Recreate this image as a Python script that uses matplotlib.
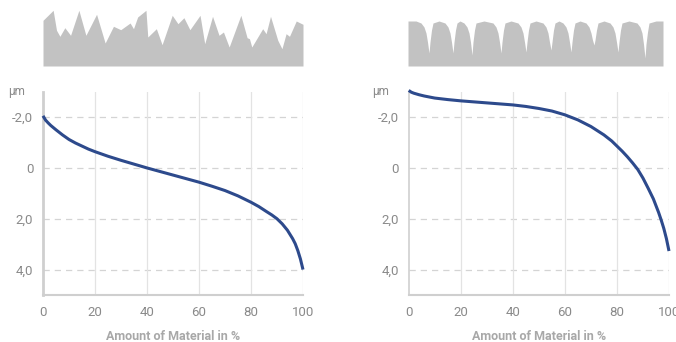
import numpy as np
import matplotlib.pyplot as plt

plt.rcParams['font.family'] = ['Roboto', 'DejaVu Sans']

# bearing (Abbott) curves, x = amount of material in %, y = depth in µm
left_x = [0, 1, 2, 3, 5, 7.5, 10, 12.5, 15, 17.5, 20, 25, 30, 35, 40, 45, 50, 55, 60, 65,
          70, 75, 80, 83, 86, 88, 90, 92, 94, 96, 97, 98, 99, 100]
left_y = [-2.05, -1.88, -1.77, -1.67, -1.5, -1.3, -1.12, -0.98, -0.86, -0.74, -0.64, -0.46,
          -0.3, -0.15, 0.0, 0.14, 0.28, 0.42, 0.56, 0.72, 0.89, 1.1, 1.35, 1.52, 1.72, 1.85,
          2.0, 2.2, 2.45, 2.78, 2.98, 3.25, 3.58, 4.0]

right_x = [0, 1, 2, 4, 6, 8, 10, 15, 20, 25, 30, 35, 40, 45, 50, 55, 60, 65, 70, 75, 78,
           80, 82, 84, 86, 88, 90, 92, 94, 96, 97, 98, 99, 100]
right_y = [-3.05, -2.98, -2.94, -2.88, -2.83, -2.79, -2.75, -2.69, -2.64, -2.6, -2.56, -2.52,
           -2.48, -2.42, -2.34, -2.24, -2.09, -1.89, -1.63, -1.3, -1.06, -0.86, -0.66, -0.44,
           -0.2, 0.06, 0.4, 0.8, 1.22, 1.75, 2.05, 2.38, 2.78, 3.27]

# surface profiles above the charts
# left: position in %, height in px-like units
prof_l_x = [0, 3.9, 5.2, 6.5, 8.4, 10.6, 13.8, 16.5, 20.6, 23.9, 27.1, 29.9, 33.5, 34.8, 36.4,
            39.6, 40.3, 43.6, 45.8, 49.7, 51.9, 54.2, 56.5, 60.4, 62.2, 65.2, 67.7, 69.4, 71.6,
            76.1, 78.5, 79.4, 80.3, 84.5, 85.8, 87.5, 90.3, 91.9, 93.5, 94.8, 97.4, 100]
prof_l_h = [45.7, 55.7, 35.7, 29.7, 38.3, 30.7, 55.7, 30.7, 51.7, 23, 39.7, 36.3, 43, 37.3, 49,
            55.7, 29, 37.3, 21.3, 50.7, 42.3, 48.3, 36.3, 50.7, 22.3, 49.7, 30.7, 34, 19,
            50.7, 28.3, 27.3, 19, 37.3, 32.3, 49.7, 25.7, 17.3, 32.3, 29.7, 45, 41.7]

# right: position along 255 px wide profile, height in px-like units
prof_r_x = [0, 8, 13, 16, 18, 19.5, 21, 22, 23.5, 25, 31, 37, 40, 42, 43.5, 45, 46, 47.5, 49,
            52, 56, 59, 61, 62.5, 64, 65, 66.5, 68, 76, 85, 88, 90, 91.5, 93, 94, 95.5, 97,
            103, 110, 113, 115, 116.5, 118, 119, 120.5, 122, 128, 135, 138, 140, 141.5, 143,
            144, 145.5, 147, 151, 155, 158, 160, 161.5, 163, 164, 165.5, 167, 172, 178, 181,
            183, 184.5, 186, 187, 188.5, 190, 196, 202, 205, 207, 208.5, 210, 211, 212.5, 214,
            221, 229, 232, 234, 235.5, 237, 238, 239.5, 241, 248, 255]
prof_r_h = [45, 45, 43, 39, 33, 24, 13, 24, 36, 43, 45, 43, 39, 33, 24, 13, 24, 36, 43,
            45, 43, 39, 33, 24, 11, 24, 36, 43, 45, 43, 39, 33, 24, 13, 24, 36, 43,
            45, 43, 39, 33, 24, 14, 24, 36, 43, 45, 43, 39, 33, 24, 16,
            24, 36, 43, 45, 43, 39, 33, 24, 14, 24, 36, 43, 45, 43, 39,
            33, 26, 21, 26, 36, 43, 45, 43, 39, 33, 24, 14, 24, 36, 43,
            45, 43, 39, 33, 22, 8, 22, 34, 43, 45, 45]

y_ticks = [-2, 0, 2, 4]
y_labels = ['-2,0', '0', '2,0', '4,0']
x_ticks = [0, 20, 40, 60, 80, 100]

line_color = '#2d4a8c'
grey_fill = '#c2c2c2'
text_grey = '#8a8a8a'

fig = plt.figure(figsize=(6.76, 3.42), dpi=100)


def draw_chart(rect, xs, ys, spine_w, um_x):
    ax = fig.add_axes(rect)
    ax.set_xlim(0, 100)
    ax.set_ylim(5, -3)
    for t in y_ticks:
        ax.axhline(t, color='#d4d4d4', lw=0.9, ls=(0, (5, 4)), zorder=1)
    for t in x_ticks[1:]:
        ax.axvline(t, color='#e3e3e3', lw=0.9, zorder=1)
    ax.plot(xs, ys, color=line_color, lw=2.2, zorder=3, clip_on=False,
            solid_capstyle='butt', solid_joinstyle='round')
    for s in ['top', 'right']:
        ax.spines[s].set_visible(False)
    ax.spines['left'].set_color('#cfcfcf')
    ax.spines['left'].set_linewidth(spine_w)
    ax.spines['bottom'].set_color('#cfcfcf')
    ax.spines['bottom'].set_linewidth(1.5)
    ax.set_yticks(y_ticks, y_labels)
    ax.set_xticks(x_ticks)
    ax.tick_params(length=0, colors=text_grey, labelsize=9.5)
    ax.tick_params(axis='y', pad=7)
    ax.tick_params(axis='x', pad=8)
    ax.set_xlabel('Amount of Material in %', color='#a8a8a8', fontsize=9,
                  fontweight='bold', labelpad=8)
    fig.text(um_x, 1 - 91 / 342, 'µm', color=text_grey, fontsize=8.5,
             ha='center', va='center')
    return ax


def draw_profile(rect, xs, hs, width):
    ax = fig.add_axes(rect)
    ax.fill_between(xs, 0, hs, color=grey_fill, lw=0)
    ax.set_xlim(0, width)
    ax.set_ylim(0, 60)
    ax.axis('off')
    return ax


draw_chart([43 / 676, 1 - 295 / 342, 260 / 676, 203.3 / 342], left_x, left_y, 2.0, 16.5 / 676)
draw_chart([408.7 / 676, 1 - 295 / 342, 260.3 / 676, 203.3 / 342], right_x, right_y, 1.2, 381 / 676)

draw_profile([43 / 676, 1 - 66 / 342, 260 / 676, 60 / 342], prof_l_x, prof_l_h, 100)
draw_profile([408 / 676, 1 - 66 / 342, 255 / 676, 60 / 342], prof_r_x, prof_r_h, 255)

fig.savefig('out.png', dpi=100)
